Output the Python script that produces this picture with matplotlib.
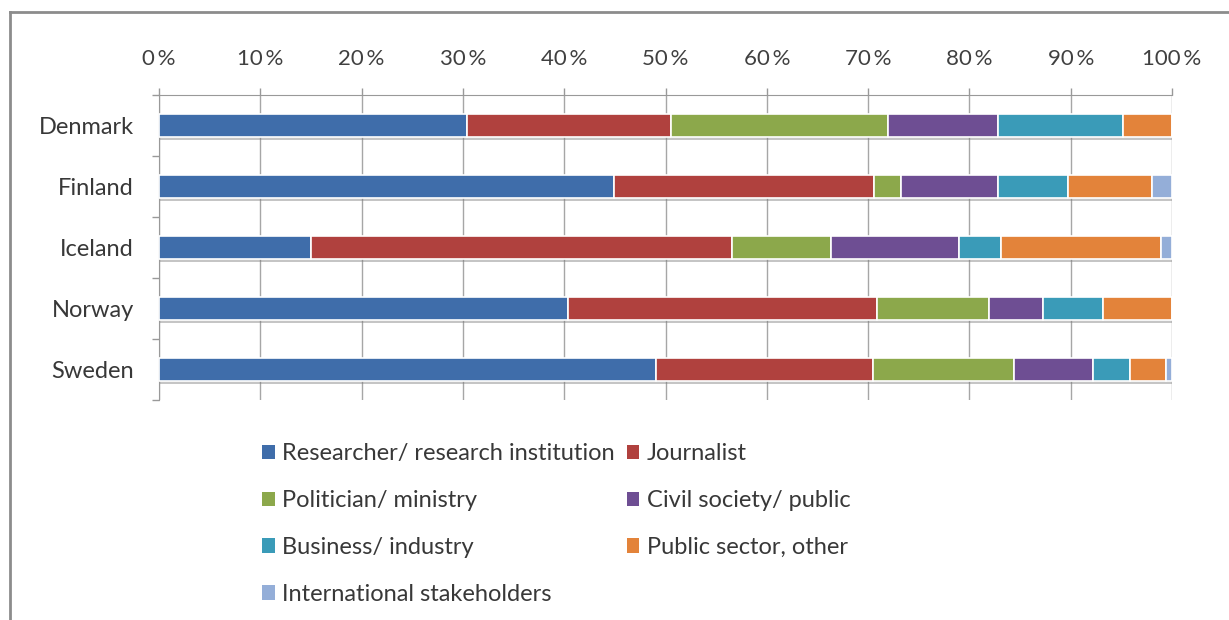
import matplotlib
matplotlib.use("Agg")
import matplotlib.pyplot as plt
import matplotlib.patheffects as pe
from matplotlib.lines import Line2D
import numpy as np

plt.rcParams['font.family'] = ['Lato', 'DejaVu Sans']

countries = ["Denmark", "Finland", "Iceland", "Norway", "Sweden"]
groups = ["Researcher/ research institution", "Journalist", "Politician/ ministry",
          "Civil society/ public", "Business/ industry", "Public sector, other",
          "International stakeholders"]

researcher = [30.4, 44.9, 15.0, 40.4, 49.1]
journalist = [20.1, 25.7, 41.6, 30.5, 21.4]
politician = [21.5, 2.6, 9.7, 11.0, 13.9]
civil = [10.8, 9.6, 12.7, 5.4, 7.8]
business = [12.4, 6.9, 4.1, 5.9, 3.7]
public_other = [4.8, 8.3, 15.8, 6.8, 3.5]
international = [0.0, 2.0, 1.1, 0.0, 0.6]

series = [researcher, journalist, politician, civil, business, public_other, international]
colors = ["#3F6DAA", "#B0413E", "#8CA84B", "#6E4E93", "#3A9BB8", "#E3833A", "#94AED8"]

tick_values = list(range(0, 101, 10))
tick_labels = [f"{v}\u2009%" for v in tick_values]

fig = plt.figure(figsize=(12.29, 6.2), dpi=100)
ax = fig.add_axes([159 / 1229, 1 - 400 / 620, (1172 - 159) / 1229, 305 / 620])

y = np.arange(len(countries))
left = np.zeros(len(countries))
handles = []
for vals, col, name in zip(series, colors, groups):
    vals = np.array(vals)
    bars = ax.barh(y, vals, left=left, height=0.38, color=col, edgecolor="white",
                   linewidth=1.2, zorder=3, label=name)
    for b in bars:
        b.set_path_effects([pe.SimplePatchShadow(offset=(0.5, -2.0), shadow_rgbFace="#7f7f7f", alpha=0.45),
                            pe.Normal()])
    handles.append(bars)
    left += vals

ax.set_xlim(0, 100)
ax.set_ylim(len(countries) - 0.5, -0.5)

ax.xaxis.tick_top()
ax.set_xticks(tick_values)
ax.set_xticklabels(tick_labels, fontsize=16, color="#404040")
ax.tick_params(axis="x", which="major", direction="out", length=5, width=1,
               color="#999999", pad=14)
ax.grid(axis="x", color="#a6a6a6", linewidth=1, zorder=0)

ax.set_yticks(y)
ax.set_yticklabels(countries, fontsize=17, color="#383838")
ax.set_yticks(np.arange(-0.5, len(countries)), minor=True)
ax.tick_params(axis="y", which="major", length=0, pad=18)
ax.tick_params(axis="y", which="minor", direction="out", length=5, width=1, color="#999999")

for side in ["right", "bottom"]:
    ax.spines[side].set_visible(False)
ax.spines["left"].set_color("#999999")
ax.spines["top"].set_color("#999999")

order = [0, 2, 4, 6, 1, 3, 5]
leg = fig.legend([handles[i] for i in order], [groups[i] for i in order],
                 loc="upper left", bbox_to_anchor=(262 / 1229, 1 - 443 / 620),
                 ncol=2, frameon=False, fontsize=17, handlelength=0.55, handleheight=0.55,
                 handletextpad=0.3, columnspacing=0.5, labelspacing=1.1, borderpad=0,
                 borderaxespad=0)
for t in leg.get_texts():
    t.set_color("#383838")
for h in leg.legend_handles:
    h.set_path_effects([])
    h.set_edgecolor("none")

# outer frame along the left and top edges
fig.add_artist(Line2D([9.5 / 1229, 9.5 / 1229], [0, 1 - 12 / 620], transform=fig.transFigure,
                      color="#8c8c8c", linewidth=2))
fig.add_artist(Line2D([9.5 / 1229, 1], [1 - 12 / 620, 1 - 12 / 620], transform=fig.transFigure,
                      color="#8c8c8c", linewidth=2))

fig.savefig("out.png", dpi=100)
